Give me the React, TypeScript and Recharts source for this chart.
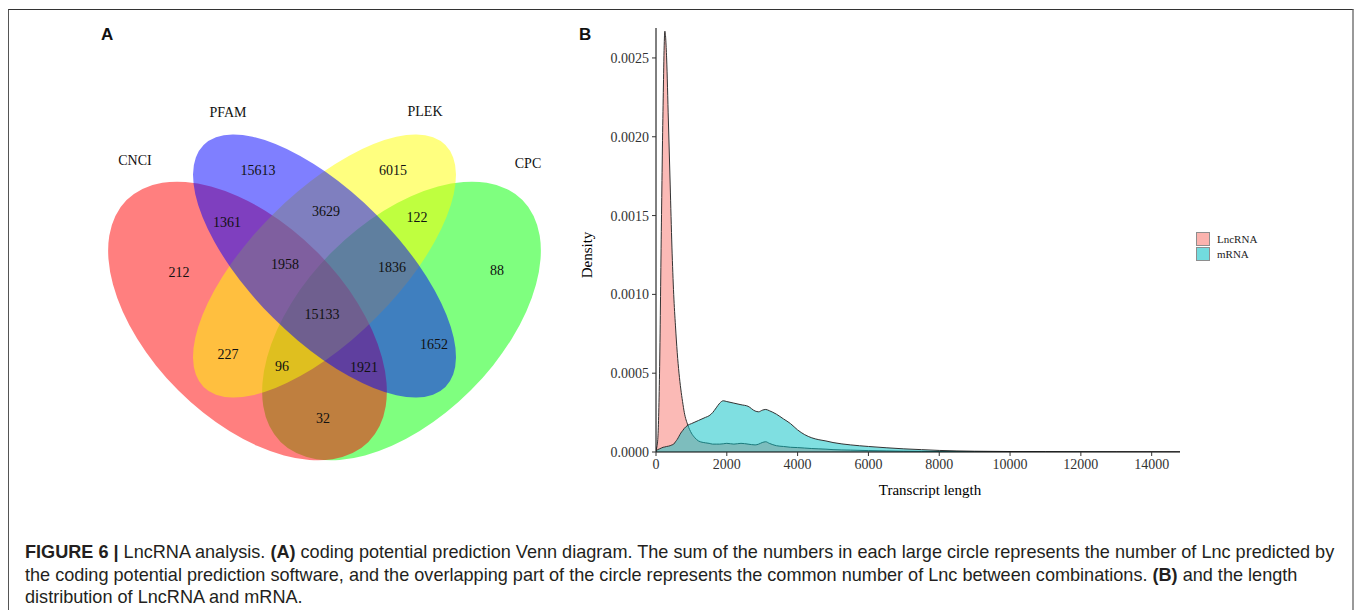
import React from 'react';
import { AreaChart, Area, XAxis, YAxis, Legend, Label, ScatterChart, Scatter } from 'recharts';

// ---------- Panel A: Venn data ----------
const vennSetNames = ['CNCI', 'PFAM', 'PLEK', 'CPC'];
const vennSetColors = ['#FF0000', '#0000FF', '#FFFF00', '#00FF00'];
const vennRegionNames = [
  'PFAM', 'PLEK', 'CNCI', 'CPC', 'CNCI&PFAM', 'PLEK&CPC', 'PFAM&PLEK', 'CNCI&PFAM&PLEK',
  'PFAM&PLEK&CPC', 'CNCI&PFAM&PLEK&CPC', 'CNCI&PLEK', 'PFAM&CPC', 'CNCI&PLEK&CPC', 'CNCI&PFAM&CPC', 'CNCI&CPC',
];
const vennRegionCounts = [15613, 6015, 212, 88, 1361, 122, 3629, 1958, 1836, 15133, 227, 1652, 96, 1921, 32];

// layout (page pixels) for panel A
const vennRegionLayout = [
  [258, 170], [393, 170], [179, 272], [497, 270], [227, 222], [417, 217], [326, 211], [285, 264],
  [392, 267], [322, 314], [228, 354], [434, 344], [282, 366], [364, 367], [323, 418],
];
const vennSetLabelLayout = [[135, 160], [228, 112], [425, 111], [528, 163]];
const vennEllipseLayout = [
  { cx: 247.5, cy: 321, rx: 171, ry: 98, rot: 45 },
  { cx: 324.5, cy: 266, rx: 171, ry: 73, rot: 45 },
  { cx: 324.5, cy: 266, rx: 171, ry: 73, rot: -45 },
  { cx: 401.5, cy: 321, rx: 171, ry: 98, rot: -45 },
];
const vennDrawOrder = [3, 0, 2, 1];

// ---------- Panel B: density data ----------
const seriesNames = ['LncRNA', 'mRNA'];
const seriesColors = ['#F8766D', '#00BFC4'];
const transcriptLength = [
  0, 50, 100, 150, 200, 250, 300, 350, 400, 450, 500, 550, 600, 650, 700, 750, 800, 900, 1000, 1100,
  1200, 1400, 1500, 1600, 1700, 1800, 1900, 2000, 2200, 2400, 2600, 2800, 2900, 3000, 3100, 3200, 3400,
  3600, 3800, 4000, 4200, 4400, 4600, 4800, 5000, 5500, 6000, 6500, 7000, 7500, 8000, 9000, 10000,
  11000, 12000, 13000, 14000, 14800,
];
const lncDensity = [
  0.00001, 0.00008, 0.0005, 0.0014, 0.0022, 0.00267, 0.0025, 0.0021, 0.0017, 0.0013, 0.001, 0.0008,
  0.00063, 0.0005, 0.0004, 0.00032, 0.00025, 0.00017, 0.00012, 0.00009, 0.00007, 0.000058, 0.000055,
  0.00005, 0.00005, 0.00005, 0.000052, 0.000055, 0.00005, 0.000055, 0.00005, 0.000045, 0.00005, 0.00006,
  0.000065, 0.000055, 0.00004, 0.000035, 0.00003, 0.000028, 0.000025, 0.000022, 0.00002, 0.000018,
  0.000015, 0.000012, 0.000009, 0.000007, 0.000005, 0.000004, 0.000003, 0.000002, 0.000001, 0.0000006,
  0.0000004, 0.0000002, 0.0000001, 0,
];
const mrnaDensity = [
  0.00001, 0.000015, 0.00002, 0.000025, 0.00003, 0.000032, 0.000035, 0.000037, 0.00004, 0.000045,
  0.00005, 0.000065, 0.00008, 0.0001, 0.00012, 0.000135, 0.00015, 0.00017, 0.00018, 0.00019, 0.0002,
  0.00022, 0.00023, 0.00025, 0.00028, 0.00031, 0.000325, 0.00032, 0.00031, 0.0003, 0.00029, 0.00026,
  0.000255, 0.000265, 0.00027, 0.000262, 0.00024, 0.00021, 0.00018, 0.00014, 0.00011, 0.00009,
  0.000078, 0.00007, 0.00006, 0.000045, 0.000035, 0.000027, 0.00002, 0.000015, 0.00001, 0.000005,
  0.000003, 0.000002, 0.000001, 0.0000006, 0.0000003, 0,
];
const xTicks = [0, 2000, 4000, 6000, 8000, 10000, 12000, 14000];
const yTicks = [0, 0.0005, 0.001, 0.0015, 0.002, 0.0025];

const densityData = transcriptLength.map((len, i) => ({ len, LncRNA: lncDensity[i], mRNA: mrnaDensity[i] }));

const ellipseData = vennDrawOrder.map((i) => ({
  x: vennEllipseLayout[i].cx,
  y: vennEllipseLayout[i].cy,
  name: vennSetNames[i],
  color: vennSetColors[i],
  rx: vennEllipseLayout[i].rx,
  ry: vennEllipseLayout[i].ry,
  rot: vennEllipseLayout[i].rot,
}));
const regionLabelData = vennRegionCounts.map((c, i) => ({
  x: vennRegionLayout[i][0], y: vennRegionLayout[i][1], text: String(c), region: vennRegionNames[i],
}));
const setLabelData = vennSetNames.map((n, i) => ({ x: vennSetLabelLayout[i][0], y: vennSetLabelLayout[i][1], text: n }));

const SERIF = '"Liberation Serif", "Times New Roman", serif';
const SANS = '"Liberation Sans", Arial, Helvetica, sans-serif';

const EllipseShape = (p: any) => (
  <ellipse
    cx={p.cx}
    cy={p.cy}
    rx={p.payload.rx}
    ry={p.payload.ry}
    transform={`rotate(${p.payload.rot} ${p.cx} ${p.cy})`}
    fill={p.payload.color}
    fillOpacity={0.5}
    stroke="none"
  />
);
const TextShape = (p: any) => (
  <text x={p.cx} y={p.cy} textAnchor="middle" dominantBaseline="central" fontFamily={SERIF} fontSize={14} fill="#111">
    {p.payload.text}
  </text>
);

const LegendContent = () => (
  <div style={{ fontFamily: SERIF, fontSize: 11, color: '#222' }}>
    {seriesNames.map((n, i) => (
      <div key={n} style={{ display: 'flex', alignItems: 'center', height: 15.5 }}>
        <div style={{ width: 14, height: 14, boxSizing: 'border-box', border: '1px solid #333', background: seriesColors[i], opacity: 0.55 }} />
        <span style={{ marginLeft: 7 }}>{n}</span>
      </div>
    ))}
  </div>
);

export default function App() {
  return (
    <div>
      <style>{`html,body{overflow:hidden}`}</style>
      {/* figure frame */}
      <div style={{ position: 'absolute', left: 8, top: 9, width: 1346, height: 610, borderTop: '1px solid #333', borderLeft: '1px solid #555', borderRight: '2px solid #999', boxSizing: 'border-box' }} />
      <div style={{ position: 'absolute', left: 101, top: 25, fontFamily: SANS, fontWeight: 'bold', fontSize: 17, color: '#111' }}>A</div>
      <div style={{ position: 'absolute', left: 579, top: 25, fontFamily: SANS, fontWeight: 'bold', fontSize: 17, color: '#111' }}>B</div>

      {/* Panel A */}
      <div style={{ position: 'absolute', left: 0, top: 0 }}>
        <ScatterChart width={570} height={500} margin={{ top: 0, right: 0, bottom: 0, left: 0 }}>
          <XAxis type="number" dataKey="x" domain={[0, 570]} hide />
          <YAxis type="number" dataKey="y" domain={[0, 500]} reversed hide />
          <Scatter data={ellipseData} shape={EllipseShape} isAnimationActive={false} />
          <Scatter data={regionLabelData} shape={TextShape} isAnimationActive={false} />
          <Scatter data={setLabelData} shape={TextShape} isAnimationActive={false} />
        </ScatterChart>
      </div>

      {/* Panel B */}
      <div style={{ position: 'absolute', left: 560, top: 0 }}>
        <AreaChart width={700} height={520} data={densityData} margin={{ top: 28, right: 80, bottom: 38, left: 26 }}>
          <XAxis
            type="number"
            dataKey="len"
            domain={[0, 14800]}
            ticks={xTicks}
            allowDataOverflow
            height={30}
            tickSize={4}
            tickMargin={3}
            axisLine={{ stroke: '#000', strokeWidth: 1 }}
            tickLine={{ stroke: '#333' }}
            tick={{ fontFamily: SERIF, fontSize: 14, fill: '#333' }}
          >
            <Label
              content={(props: any) => {
                const vb = props.viewBox;
                return (
                  <text x={vb.x + vb.width / 2 + 12} y={vb.y + 38} textAnchor="middle" dominantBaseline="central" fontFamily={SERIF} fontSize={15} fill="#000">
                    Transcript length
                  </text>
                );
              }}
            />
          </XAxis>
          <YAxis
            type="number"
            domain={[0, 0.00269]}
            ticks={yTicks}
            allowDataOverflow
            width={70}
            tickSize={4}
            tickMargin={3}
            tickFormatter={(v: number) => v.toFixed(4)}
            axisLine={{ stroke: '#000', strokeWidth: 1 }}
            tickLine={{ stroke: '#333' }}
            tick={{ fontFamily: SERIF, fontSize: 14, fill: '#333' }}
          >
            <Label
              content={(props: any) => {
                const vb = props.viewBox;
                const cx = vb.x + 1;
                const cy = vb.y + vb.height / 2 + 15;
                return (
                  <text x={cx} y={cy} transform={`rotate(-90 ${cx} ${cy})`} textAnchor="middle" dominantBaseline="central" fontFamily={SERIF} fontSize={15} fill="#000">
                    Density
                  </text>
                );
              }}
            />
          </YAxis>
          <Area type="monotone" dataKey="LncRNA" stroke="#333" strokeWidth={1} fill={seriesColors[0]} fillOpacity={0.5} isAnimationActive={false} dot={false} activeDot={false} />
          <Area type="monotone" dataKey="mRNA" stroke="#333" strokeWidth={1} fill={seriesColors[1]} fillOpacity={0.5} isAnimationActive={false} dot={false} activeDot={false} />
          <Legend layout="horizontal" verticalAlign="middle" align="center" wrapperStyle={{ left: 636, top: 231, width: 'auto' }} content={LegendContent} />
        </AreaChart>
      </div>

      {/* Caption */}
      <div style={{ position: 'absolute', left: 25, top: 541, fontFamily: SANS, fontSize: 18.1, lineHeight: '22.5px', color: '#231f20', whiteSpace: 'nowrap' }}>
        <div><b>FIGURE 6 |</b> LncRNA analysis. <b>(A)</b> coding potential prediction Venn diagram. The sum of the numbers in each large circle represents the number of Lnc predicted by</div>
        <div>the coding potential prediction software, and the overlapping part of the circle represents the common number of Lnc between combinations. <b>(B)</b> and the length</div>
        <div>distribution of LncRNA and mRNA.</div>
      </div>
    </div>
  );
}
